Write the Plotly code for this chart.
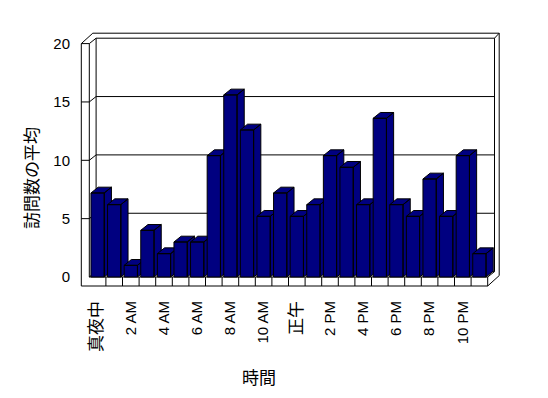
import plotly.graph_objects as go

# ---- data ----
hours = ["真夜中", "1 AM", "2 AM", "3 AM", "4 AM", "5 AM", "6 AM", "7 AM",
         "8 AM", "9 AM", "10 AM", "11 AM", "正午", "1 PM", "2 PM", "3 PM",
         "4 PM", "5 PM", "6 PM", "7 PM", "8 PM", "9 PM", "10 PM", "11 PM"]
visits = [7.2, 6.2, 1.0, 4.0, 2.0, 3.0, 3.0, 10.4, 15.6, 12.6, 5.2, 7.2,
          5.2, 6.2, 10.4, 9.4, 6.2, 13.6, 6.2, 5.2, 8.4, 5.2, 10.4, 2.0]
y_ticks = [0, 5, 10, 15, 20]
x_tick_labels = hours[::2]
x_title = "時間"
y_title = "訪問数の平均"

# ---- geometry helpers (pixel sizes converted to axis units) ----
W, H = 548, 398
PLOT_L, PLOT_R, PLOT_T, PLOT_B = 78, 504, 28, 290
X0_PX, X_PX = 89.3, 16.6     # left edge of first slot, px per category
Y0_PX, Y_PX = 277.0, 11.67   # zero line, px per unit


def ux(px):
    return px / X_PX


def uy(px):
    return px / Y_PX


x_range = [(PLOT_L - X0_PX) / X_PX - 0.5, (PLOT_R - X0_PX) / X_PX - 0.5]
y_range = [(Y0_PX - PLOT_B) / Y_PX, (Y0_PX - PLOT_T) / Y_PX]

n = len(hours)
L, R = -0.5, n - 0.5
T = float(y_ticks[-1])
LO = L - ux(8)
FB = -uy(9)
DEPTH = [(0.0, 0.0), (ux(6.8), uy(5.4)), (ux(11.5), uy(10.4))]
BAR_D = (ux(7.2), uy(5.8))
HALF = 0.4

NAVY = "#000080"


def P(x, y, z):
    ox, oy = DEPTH[z]
    return (x + ox, y + oy)


segments = []
segments.append([P(LO, T, 0), P(L, T, 0), P(L, 0, 0), P(R, 0, 0),
                 P(R, FB, 0), P(LO, FB, 0), P(LO, T, 0)])
segments.append([P(LO, T, 0), P(LO, T, 2), P(R, T, 2), P(R, T, 1),
                 P(L, T, 1), P(L, T, 0)])
segments.append([P(R, T, 2), P(R, FB, 2), P(R, FB, 0)])
segments.append([P(R, T, 1), P(R, 0, 1), P(R, 0, 0)])
segments.append([P(L, T, 1), P(L, 0, 1)])
for v in y_ticks[:-1]:
    segments.append([P(L, v, 0), P(L, v, 1), P(R, v, 1)])
for v in y_ticks[1:-1]:
    segments.append([P(LO, v, 0), P(L, v, 0)])
for k in range(n - 1):
    segments.append([P(k + 0.5, FB, 0), P(k + 0.5, 0, 0)])

wx, wy = [], []
for seg in segments:
    for (a, b) in seg:
        wx.append(a)
        wy.append(b)
    wx.append(None)
    wy.append(None)

fig = go.Figure()
fig.add_trace(go.Scatter(x=wx, y=wy, mode="lines",
                         line=dict(color="black", width=1),
                         hoverinfo="skip", showlegend=False))

dx, dy = BAR_D
for i, v in enumerate(visits):
    xl, xr = i - HALF, i + HALF
    polys = [
        [(xl, 0), (xr, 0), (xr, v), (xl, v), (xl, 0)],
        [(xl, v), (xr, v), (xr + dx, v + dy), (xl + dx, v + dy), (xl, v)],
        [(xr, 0), (xr + dx, dy), (xr + dx, v + dy), (xr, v), (xr, 0)],
    ]
    bx, by = [], []
    for poly in polys:
        for (a, b) in poly:
            bx.append(a)
            by.append(b)
        bx.append(None)
        by.append(None)
    fig.add_trace(go.Scatter(x=bx, y=by, mode="lines", fill="toself",
                             fillcolor=NAVY,
                             line=dict(color="black", width=1),
                             name=hours[i], hoverinfo="skip",
                             showlegend=False))

FONT = "Liberation Sans, Arial, Noto Sans CJK JP, sans-serif"


def tick_text(s):
    if any(ord(c) > 0x2000 for c in s):
        return '<span style="font-size:17px">' + s + '</span>'
    return s


fig.update_layout(
    template="none",
    width=W, height=H,
    margin=dict(l=PLOT_L, r=W - PLOT_R, t=PLOT_T, b=H - PLOT_B, pad=0),
    paper_bgcolor="white", plot_bgcolor="white",
    font=dict(family=FONT, color="black"),
    xaxis=dict(range=x_range, showgrid=False, zeroline=False, showline=False,
               automargin=False,
               tickmode="array", tickvals=list(range(0, n, 2)),
               ticktext=[tick_text(s) for s in x_tick_labels],
               tickangle=-90, tickfont=dict(size=15, family=FONT),
               ticks="", ticklabelstandoff=7, fixedrange=True),
    yaxis=dict(range=y_range, showgrid=False, zeroline=False, showline=False,
               automargin=False,
               tickmode="array", tickvals=y_ticks,
               ticktext=[str(t) for t in y_ticks],
               tickfont=dict(size=15, family=FONT),
               ticks="", ticklabelstandoff=7, fixedrange=True),
    annotations=[
        dict(text=y_title, xref="paper", yref="paper",
             x=(30 - PLOT_L) / (PLOT_R - PLOT_L),
             y=(PLOT_B - 178) / (PLOT_B - PLOT_T),
             textangle=-90, showarrow=False, xanchor="center", yanchor="middle",
             font=dict(size=17, family="Noto Sans CJK JP")),
        dict(text=x_title, xref="paper", yref="paper",
             x=(259 - PLOT_L) / (PLOT_R - PLOT_L),
             y=(PLOT_B - 376) / (PLOT_B - PLOT_T),
             showarrow=False, xanchor="center", yanchor="middle",
             font=dict(size=17, family="Noto Sans CJK JP")),
    ],
)

fig.write_html("out.html",
               config={"displayModeBar": False, "staticPlot": True},
               post_script="document.body.style.margin='0';"
                           "document.body.style.overflow='hidden';")
